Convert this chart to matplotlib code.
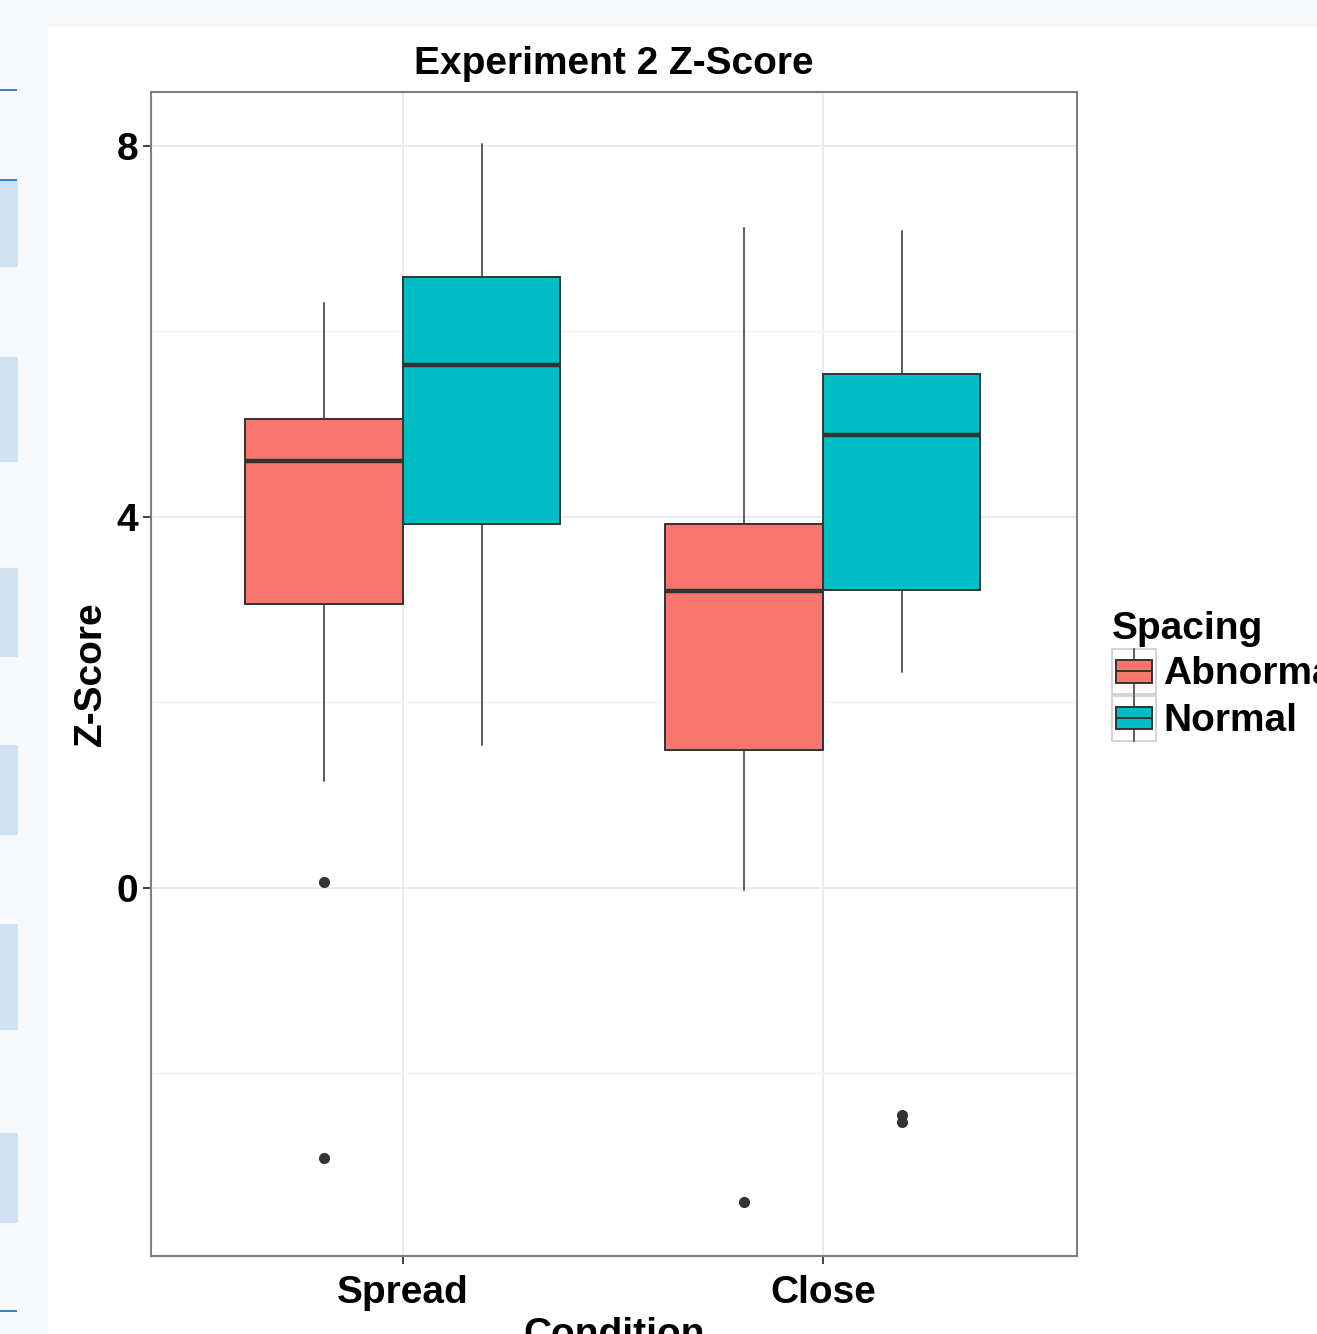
import matplotlib
matplotlib.use("Agg")
from matplotlib import pyplot as plt
from matplotlib.patches import Rectangle, Patch
from matplotlib.lines import Line2D
from matplotlib.legend_handler import HandlerBase

plt.rcParams['font.family'] = ['Liberation Sans', 'DejaVu Sans']
plt.rcParams['font.weight'] = 'bold'

# data (box stats per condition)
conditions = ['Spread', 'Close']
spacing = ['Abnormal', 'Normal']
colors = ['#F8766D', '#00BFC4']

abn_whislo = [1.15, -0.02]
abn_q1 = [3.06, 1.49]
abn_med = [4.60, 3.20]
abn_q3 = [5.05, 3.92]
abn_whishi = [6.31, 7.11]
abn_fliers = [[0.06, -2.91], [-3.39]]

nor_whislo = [1.54, 2.33]
nor_q1 = [3.92, 3.21]
nor_med = [5.64, 4.88]
nor_q3 = [6.58, 5.54]
nor_whishi = [8.02, 7.08]
nor_fliers = [[], [-2.45, -2.52]]

W, H = 1317, 1334
fig = plt.figure(figsize=(W / 100, H / 100), dpi=100)
fig.patch.set_facecolor('white')


def fr(x, y, w, h):
    # pixel box (top-left origin) -> figure fraction
    return (x / W, 1 - (y + h) / H), w / W, h / H


# page background around the chart (screenshot surroundings)
for (x, y, w, h, c) in [(0, 0, 48, H, '#f8f9fc'), (0, 0, W, 27, '#f8f9fc'),
                        (0, 180, 18, 87, '#cfe2f3'), (0, 357, 18, 105, '#cfe2f3'),
                        (0, 568, 18, 89, '#cfe2f3'), (0, 745, 18, 90, '#cfe2f3'),
                        (0, 924, 18, 106, '#cfe2f3'), (0, 1133, 18, 90, '#cfe2f3'),
                        (0, 89, 17, 2, '#2a86d6'), (0, 179, 17, 2, '#2a86d6'),
                        (0, 1310, 17, 2, '#2a86d6')]:
    xy, ww, hh = fr(x, y, w, h)
    fig.add_artist(Rectangle(xy, ww, hh, transform=fig.transFigure,
                             facecolor=c, edgecolor='none', zorder=0))

ax = fig.add_axes([151 / W, 1 - 1256 / H, (1077 - 151) / W, (1256 - 92) / H])
ax.set_facecolor('white')

groups = [
    (abn_whislo, abn_q1, abn_med, abn_q3, abn_whishi, abn_fliers, -0.1875),
    (nor_whislo, nor_q1, nor_med, nor_q3, nor_whishi, nor_fliers, 0.1875),
]
for (lo, q1, med, q3, hi, fl, off), col in zip(groups, colors):
    stats = []
    for i in range(len(conditions)):
        stats.append(dict(whislo=lo[i], q1=q1[i], med=med[i], q3=q3[i],
                          whishi=hi[i], fliers=fl[i]))
    ax.bxp(stats, positions=[i + 1 + off for i in range(len(conditions))],
           widths=0.375, patch_artist=True, showcaps=False, manage_ticks=False,
           boxprops=dict(facecolor=col, edgecolor='#333333', linewidth=1.4),
           medianprops=dict(color='#333333', linewidth=3.2),
           whiskerprops=dict(color='#333333', linewidth=1.1),
           flierprops=dict(marker='o', markerfacecolor='#333333',
                           markeredgecolor='#333333', markersize=7),
           zorder=3)

ax.set_xlim(0.4, 2.605)
ax.set_ylim(-3.97, 8.58)
ax.set_xticks([1, 2], conditions)
ax.set_yticks([0, 4, 8])
ax.set_yticks([-2, 2, 6], minor=True)
ax.grid(which='major', color='#ebebeb', linewidth=1.4, zorder=0)
ax.grid(which='minor', axis='y', color='#f4f4f4', linewidth=1.0, zorder=0)
ax.set_axisbelow(True)
ax.tick_params(which='major', length=6, width=1.3, color='#333333',
               labelsize=28, labelcolor='black', pad=3)
ax.tick_params(axis='x', which='major', pad=8)
ax.tick_params(which='minor', length=0)
for s in ax.spines.values():
    s.set_color('#7f7f7f')
    s.set_linewidth(1.5)

ax.set_title('Experiment 2 Z-Score', fontsize=28, fontweight='bold', pad=13)
ax.set_ylabel('Z-Score', fontsize=28, fontweight='bold', labelpad=6)
ax.set_xlabel('Condition', fontsize=28, fontweight='bold', labelpad=4)


class BoxHandler(HandlerBase):
    def create_artists(self, legend, orig_handle, xd, yd, w, h, fontsize, trans):
        x0, y0 = -xd, -yd
        key = Rectangle((x0, y0), w, h, facecolor='white', edgecolor='#cccccc',
                        linewidth=1.2, transform=trans)
        box = Rectangle((x0 + 0.1 * w, y0 + 0.25 * h), 0.8 * w, 0.5 * h,
                        facecolor=orig_handle.get_facecolor(), edgecolor='#333333',
                        linewidth=1.4, transform=trans)
        med = Line2D([x0 + 0.1 * w, x0 + 0.9 * w], [y0 + 0.5 * h] * 2,
                     color='#333333', linewidth=1.4, transform=trans)
        wt = Line2D([x0 + 0.5 * w] * 2, [y0 + 0.75 * h, y0 + h],
                    color='#333333', linewidth=1.1, transform=trans)
        wb = Line2D([x0 + 0.5 * w] * 2, [y0, y0 + 0.25 * h],
                    color='#333333', linewidth=1.1, transform=trans)
        return [key, box, med, wt, wb]


handles = [Patch(facecolor=c) for c in colors]
leg = fig.legend(handles, spacing, handler_map={Patch: BoxHandler()},
                 loc='upper left', bbox_to_anchor=(1112 / W, 1 - 611 / H),
                 frameon=False, borderpad=0, borderaxespad=0,
                 prop=dict(size=28, weight='bold'), title='Spacing',
                 title_fontproperties=dict(size=28, weight='bold'),
                 alignment='left', handlelength=1.13, handleheight=1.40,
                 handletextpad=0.18, labelspacing=0.05)

fig.savefig('out.png', dpi=100)
